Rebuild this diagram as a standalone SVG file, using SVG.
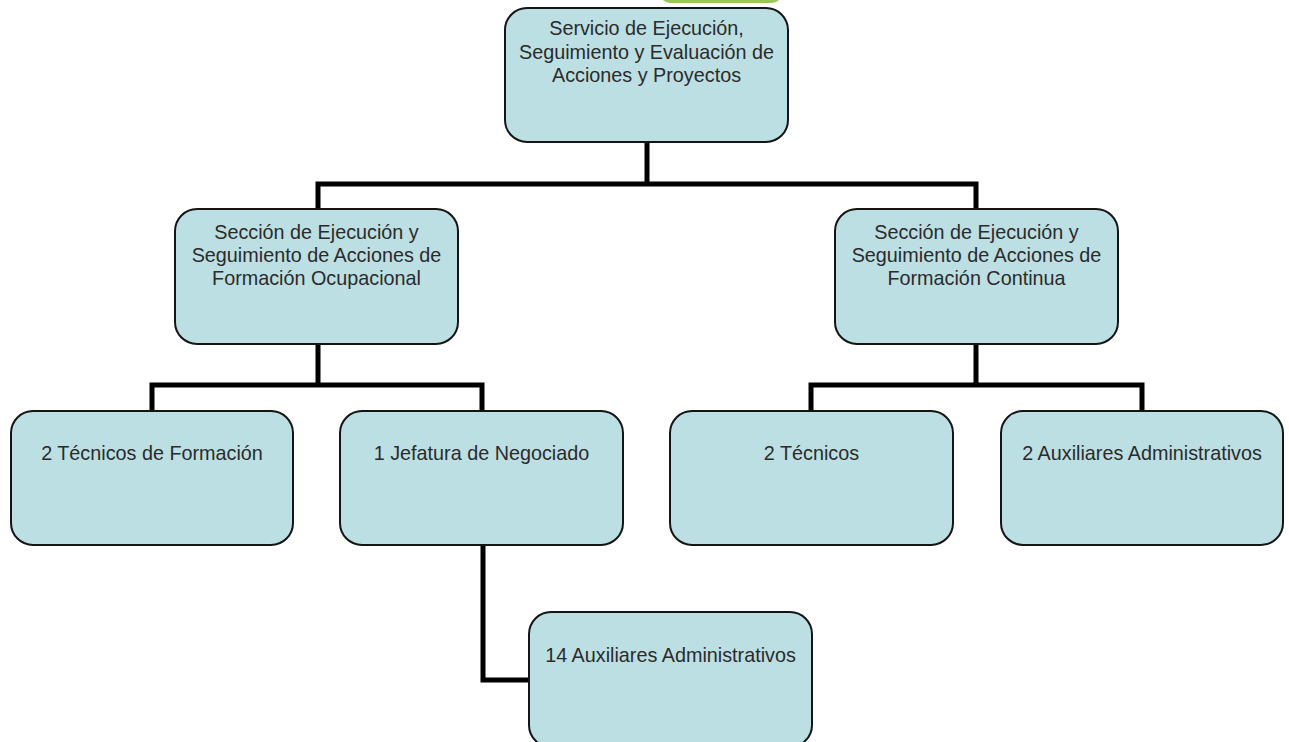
<svg xmlns="http://www.w3.org/2000/svg" width="1289" height="742" viewBox="0 0 1289 742">
<style>
.box{fill:#bcdfe3;stroke:#151515;stroke-width:2}
.t{font-family:"Liberation Sans",Arial,sans-serif;font-size:19.8px;fill:#2b2b2b;text-anchor:middle}
.c{fill:none;stroke:#000;stroke-width:5;stroke-linejoin:miter;stroke-linecap:butt}
</style>
<rect width="1289" height="742" fill="#fff"/>
<rect x="660" y="-30" width="122" height="33" rx="10" fill="#9ec55c"/>
<g id="connectors">
<path class="c" d="M647 142V184M318 209V184H976V209"/>
<path class="c" d="M318 344V385M152 411V385H482V411"/>
<path class="c" d="M976 344V385M811 411V385H1142V411"/>
<path class="c" d="M483 545V680H529"/>
</g>
<g id="n_servicio">
<rect class="box" x="505" y="8" width="283" height="134" rx="22"/>
<text class="t" x="646.5" y="35">Servicio de Ejecución,</text>
<text class="t" x="646.5" y="58.5">Seguimiento y Evaluación de</text>
<text class="t" x="646.5" y="82">Acciones y Proyectos</text>
</g>
<g id="n_ocupacional">
<rect class="box" x="175" y="209" width="283" height="135" rx="22"/>
<text class="t" x="316.5" y="239">Sección de Ejecución y</text>
<text class="t" x="316.5" y="262">Seguimiento de Acciones de</text>
<text class="t" x="316.5" y="285">Formación Ocupacional</text>
</g>
<g id="n_continua">
<rect class="box" x="835" y="209" width="283" height="135" rx="22"/>
<text class="t" x="976.5" y="239">Sección de Ejecución y</text>
<text class="t" x="976.5" y="262">Seguimiento de Acciones de</text>
<text class="t" x="976.5" y="285">Formación Continua</text>
</g>
<g id="n_tecnicos_formacion">
<rect class="box" x="11" y="411" width="282" height="134" rx="22"/>
<text class="t" x="152" y="460">2 Técnicos de Formación</text>
</g>
<g id="n_jefatura">
<rect class="box" x="340" y="411" width="283" height="134" rx="22"/>
<text class="t" x="481.5" y="460">1 Jefatura de Negociado</text>
</g>
<g id="n_tecnicos">
<rect class="box" x="670" y="411" width="283" height="134" rx="22"/>
<text class="t" x="811.5" y="460">2 Técnicos</text>
</g>
<g id="n_auxiliares2">
<rect class="box" x="1001" y="411" width="282" height="134" rx="22"/>
<text class="t" x="1142" y="460">2 Auxiliares Administrativos</text>
</g>
<g id="n_auxiliares14">
<rect class="box" x="529" y="612" width="283" height="135" rx="22"/>
<text class="t" x="670.5" y="662">14 Auxiliares Administrativos</text>
</g>
</svg>
